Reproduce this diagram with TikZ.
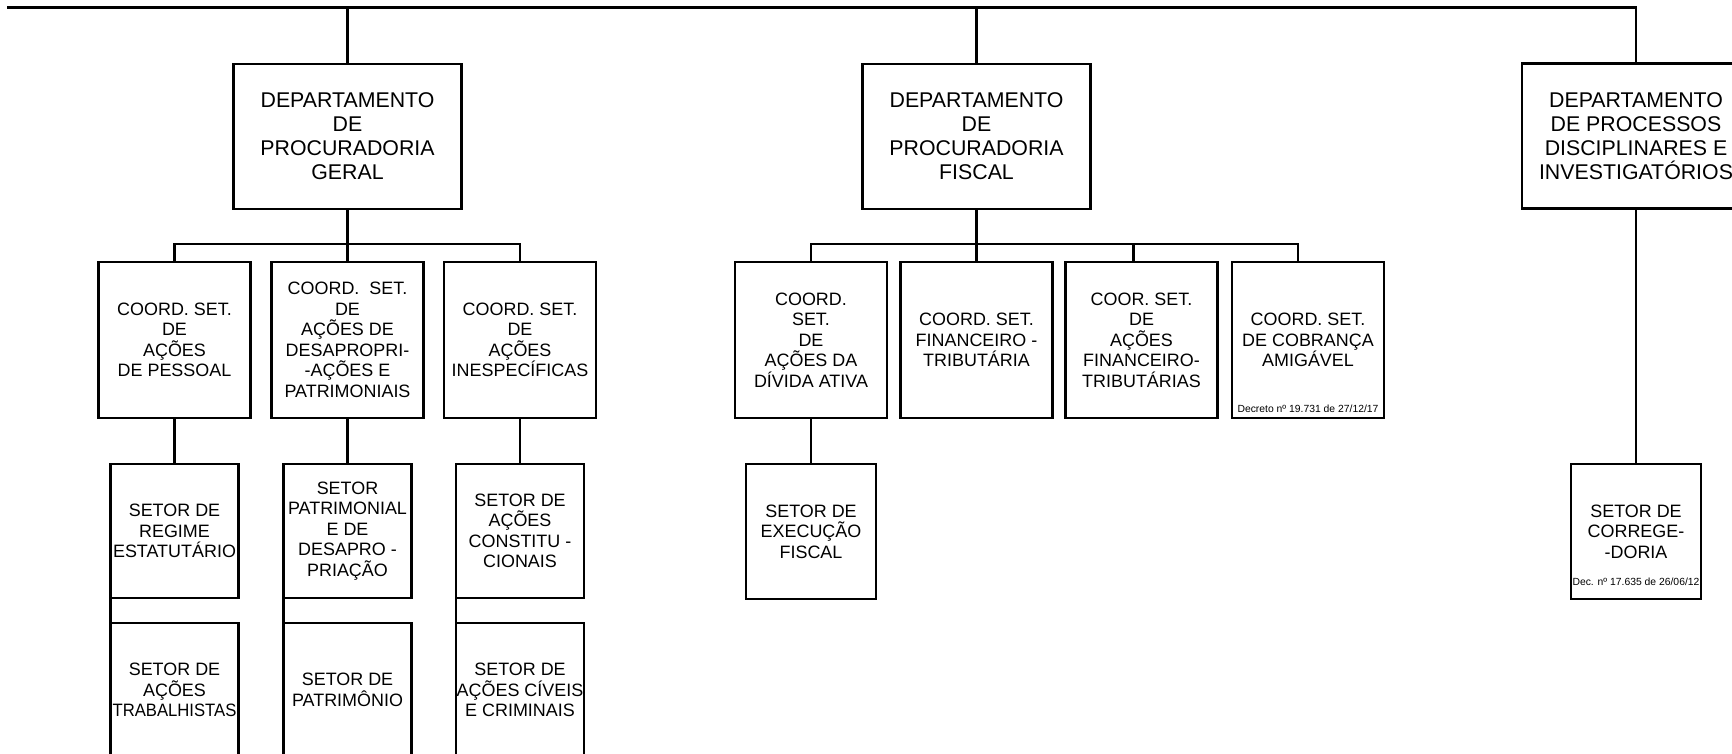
\documentclass[tikz,border=0pt]{standalone}
\usepackage{fontspec}
\setmainfont{Liberation Sans}
\usepackage{graphicx}
\usepackage{tikz}
\usetikzlibrary{positioning}

\begin{document}
\begin{tikzpicture}[x=0.5bp, y=-0.5bp, line width=1.3bp,
  dept/.style={draw, align=center, inner sep=0pt, minimum width=114bp, minimum height=72.4bp, font=\fontsize{10.7}{12}\selectfont},
  coord/.style={draw, align=center, inner sep=0pt, minimum width=76bp, minimum height=78bp, font=\fontsize{9}{10.3}\selectfont},
  setor/.style={draw, align=center, inner sep=0pt, outer sep=0pt, minimum width=64bp, minimum height=67bp, font=\fontsize{9}{10.3}\selectfont},
  decreto/.style={inner sep=0pt, font=\fontsize{5.2}{6}\selectfont}]
\useasboundingbox (0,0) rectangle (1732,754);
\coordinate (topo) at (7,7.3);
\node[dept] (geral) at (347.5,136.5) {DEPARTAMENTO\\DE\\PROCURADORIA\\GERAL};
\node[dept] (fiscal) at (976.5,136.5) {DEPARTAMENTO\\DE\\PROCURADORIA\\FISCAL};
\node[dept] (disc) at (1636,136) {DEPARTAMENTO\\DE PROCESSOS\\DISCIPLINARES E\\INVESTIGATÓRIOS};
\draw (topo) -| (disc.north);
\draw (geral) -- (geral |- topo);
\draw (fiscal) -- (fiscal |- topo);

\node[coord] (pessoal) at (174.5,340) {COORD. SET.\\DE\\AÇÕES\\DE PESSOAL};
\node[coord] (desaprop) at (347.5,340) {COORD.\ \ SET.\\DE\\AÇÕES DE\\DESAPROPRI-\\-AÇÕES E\\PATRIMONIAIS};
\node[coord] (inesp) at (520,340) {COORD. SET.\\DE\\AÇÕES\\INESPECÍFICAS};
\coordinate (barra1) at (347.5,244);
\draw (pessoal.north) |- (barra1) -| (inesp.north);
\draw (geral) -- (desaprop);

\node[setor] (regime) at (174.5,531) {SETOR DE\\REGIME\\ESTATUTÁRIO};
\node[setor] (patrim) at (347.5,531) {SETOR\\PATRIMONIAL\\E DE\\DESAPRO -\\PRIAÇÃO};
\node[setor] (constit) at (520,531) {SETOR DE\\AÇÕES\\CONSTITU -\\CIONAIS};
\node[setor] (trab) at (174.5,690) {SETOR DE\\AÇÕES\\\scalebox{0.93}[1]{TRABALHISTAS}};
\node[setor] (patrimonio) at (347.5,690) {SETOR DE\\PATRIMÔNIO};
\node[setor] (civeis) at (520,690) {SETOR DE\\AÇÕES CÍVEIS\\E CRIMINAIS};
\draw (pessoal) -- (regime);
\draw (desaprop) -- (patrim);
\draw (inesp) -- (constit);
\draw (regime.south west) -- (trab.north west);
\draw (patrim.south west) -- (patrimonio.north west);
\draw (constit.south west) -- (civeis.north west);

\node[coord] (divida) at (811,340) {COORD.\\SET.\\DE\\AÇÕES DA\\DÍVIDA ATIVA};
\node[coord] (fintrib) at (976.5,340) {COORD. SET.\\FINANCEIRO -\\TRIBUTÁRIA};
\node[coord] (acoesfin) at (1141.5,340) {COOR. SET.\\DE\\AÇÕES\\FINANCEIRO-\\TRIBUTÁRIAS};
\node[coord] (cobranca) at (1308,340) {COORD. SET.\\DE COBRANÇA\\AMIGÁVEL};
\node[decreto, above=2.5bp of cobranca.south] (dec1) {Decreto nº 19.731 de 27/12/17};
\coordinate (barra2) at (976.5,244);
\draw (divida.north) |- (barra2) -| ([xshift=-5bp]cobranca.north);
\draw (fiscal) -- (fintrib);
\draw ([xshift=-4bp]acoesfin.north) -- ([xshift=-4bp]acoesfin.north |- barra2);

\node[setor, minimum width=65bp, minimum height=67.5bp] (execucao) at (811,531.5) {SETOR DE\\EXECUÇÃO\\FISCAL};
\draw (divida) -- (execucao);

\node[setor, minimum width=65bp, minimum height=67.5bp] (correg) at (1636,531.5) {SETOR DE\\CORREGE-\\-DORIA};
\node[decreto, above=6bp of correg.south] (dec2) {Dec. nº 17.635 de 26/06/12};
\draw (disc) -- (correg);
\end{tikzpicture}
\end{document}
